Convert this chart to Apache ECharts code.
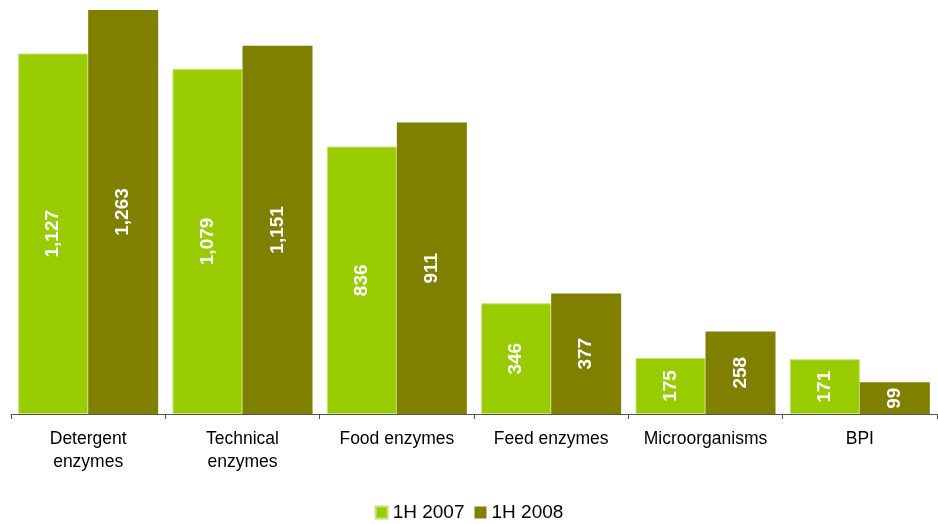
<!DOCTYPE html>
<html>
<head>
<meta charset="utf-8">
<script src="https://cdn.jsdelivr.net/npm/echarts@6/dist/echarts.min.js"></script>
<style>
  html, body { margin: 0; padding: 0; background: #fff; }
  #chart { width: 938px; height: 524px; }
</style>
</head>
<body>
<div id="chart"></div>
<script>
var categories = ['Detergent\nenzymes', 'Technical\nenzymes', 'Food enzymes', 'Feed enzymes', 'Microorganisms', 'BPI'];
var h2007 = [1127, 1079, 836, 346, 175, 171];
var h2008 = [1263, 1151, 911, 377, 258, 99];

var myChart = echarts.init(document.getElementById('chart'));

var barLabel = {
    show: true,
    position: 'inside',
    rotate: 90,
    color: '#fff',
    fontFamily: 'Liberation Sans, Arial',
    fontWeight: 'bold',
    fontSize: 19,
    formatter: function (p) { return p.value.toLocaleString('en-US'); }
};

option = {
    animation: false,
    grid: { left: 11, right: 1, top: 10, bottom: 110 },
    legend: {
        bottom: -3,
        left: 'center',
        itemWidth: 12,
        itemHeight: 12,
        itemGap: 10,
        icon: 'rect',
        textStyle: { fontFamily: 'Liberation Sans, Arial', fontSize: 19, color: '#000' },
        data: ['1H 2007', '1H 2008']
    },
    xAxis: {
        type: 'category',
        data: categories,
        axisLine: { lineStyle: { color: '#555', width: 1 } },
        axisTick: { show: true, length: 5, lineStyle: { color: '#555' } },
        axisLabel: {
            color: '#000',
            fontFamily: 'Liberation Sans, Arial',
            fontSize: 17.5,
            lineHeight: 23,
            margin: 14,
            interval: 0
        }
    },
    yAxis: {
        type: 'value',
        min: 0,
        max: 1263,
        show: false,
        splitLine: { show: false }
    },
    series: [
        {
            name: '1H 2007',
            type: 'bar',
            data: h2007,
            barWidth: 70,
            barGap: '0%',
            itemStyle: { color: '#99CC00', borderColor: '#C4E27A', borderWidth: 1 },
            label: barLabel
        },
        {
            name: '1H 2008',
            type: 'bar',
            data: h2008,
            barWidth: 70,
            itemStyle: { color: '#808000' },
            label: barLabel
        }
    ]
};
myChart.setOption(option);
</script>
</body>
</html>
